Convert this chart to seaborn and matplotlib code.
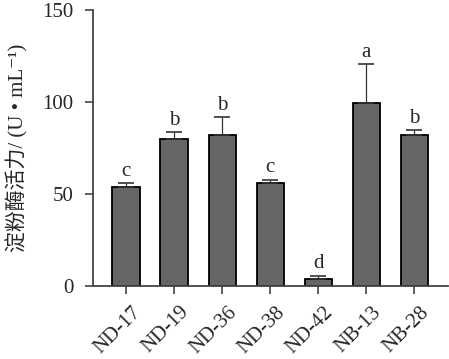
import numpy as np
import pandas as pd
import matplotlib
matplotlib.use("Agg")
import matplotlib.pyplot as plt
import matplotlib.transforms as mtrans
import seaborn as sns

# 菌株及淀粉酶活力
strains = ["ND-17", "ND-19", "ND-36", "ND-38", "ND-42", "NB-13", "NB-28"]
activity = [54.0, 79.7, 81.9, 56.2, 3.8, 99.3, 82.2]
err_up = [1.8, 3.8, 9.8, 1.4, 1.6, 21.2, 2.4]
letters = ["c", "b", "b", "c", "d", "a", "b"]

df = pd.DataFrame({"strain": strains, "activity": activity})

sns.set_style("ticks")
plt.rcParams["font.family"] = ["Liberation Serif", "DejaVu Serif", "Noto Sans CJK SC"]

fig = plt.figure(figsize=(4.49, 3.59), dpi=100)
ax = fig.add_axes([93 / 449, 73 / 359, 355 / 449, 276 / 359])

sns.barplot(data=df, x="strain", y="activity", color="#666666", width=0.57,
            edgecolor="black", linewidth=1.3, saturation=1, errorbar=None, ax=ax)

x = np.arange(len(strains))
_, caps, bars = ax.errorbar(x, activity, yerr=[np.zeros(len(err_up)), err_up],
                            fmt="none", ecolor="#333333", elinewidth=0.9,
                            capsize=6, capthick=1.2, zorder=1)
for c in caps:
    c.set_color("#888888")

for xi, v, e, t in zip(x, activity, err_up, letters):
    ax.text(xi, v + e + 1.5, t, ha="center", va="bottom", fontsize=15)

ax.set_ylim(0, 150)
ax.set_yticks([0, 50, 100, 150])
ax.set_xlim(-0.69, 6.7)
ax.set_xlabel("")
ax.set_ylabel("淀粉酶活力/ (U • mL⁻¹)", fontsize=15, labelpad=10)

for s in ["top", "right"]:
    ax.spines[s].set_visible(False)
for s in ["left", "bottom"]:
    ax.spines[s].set_color("#444444")
    ax.spines[s].set_linewidth(1.3)

ax.tick_params(axis="both", labelsize=15, color="#444444", width=1.2, length=6)
ax.tick_params(axis="y", pad=8)
ax.tick_params(axis="x", pad=6)
shift = mtrans.ScaledTranslation(5 / 100, 0, fig.dpi_scale_trans)
for lab in ax.get_xticklabels():
    lab.set_rotation(45)
    lab.set_ha("right")
    lab.set_rotation_mode("anchor")
    lab.set_transform(lab.get_transform() + shift)

fig.savefig("out.png", dpi=100)
